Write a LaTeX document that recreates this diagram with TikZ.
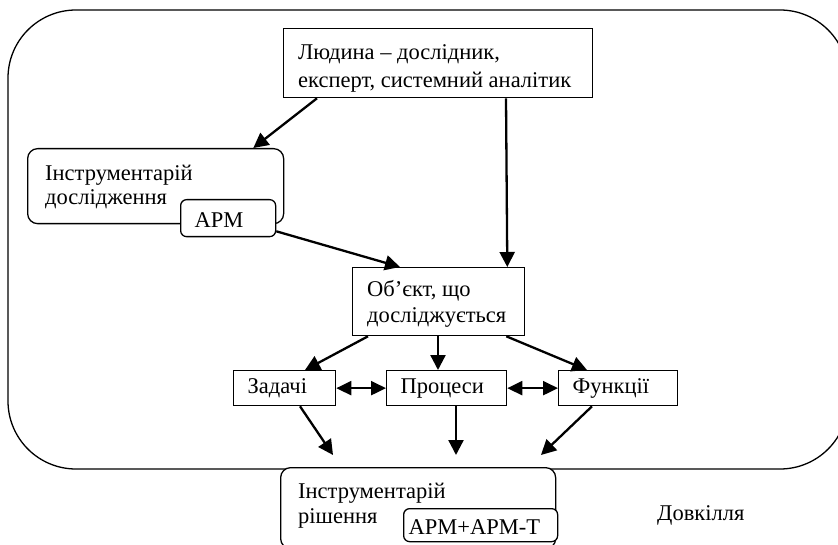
\documentclass[tikz,border=0pt]{standalone}
\usepackage{fontspec}
\setmainfont{Liberation Serif}
\usetikzlibrary{arrows.meta}

\begin{document}
\begin{tikzpicture}[x=1pt,y=-1pt,
    every node/.style={font=\fontsize{22.5}{26}\selectfont},
    box/.style={draw, line width=1.3pt, inner sep=0pt, fill=white, anchor=north west},
    rbox/.style={box, rounded corners=10pt},
    sbox/.style={box, inner xsep=14pt, align=left},
    lbl/.style={anchor=base west, align=left, inner sep=0pt},
    arr/.style={->, line width=2.3pt, >={Triangle[length=15pt,width=15pt]}},
    darr/.style={<->, line width=2.3pt, >={Triangle[length=15pt,width=14pt]}}]

    \useasboundingbox (0,0) rectangle (838,545);

    % environment
    \draw[line width=1.3pt, rounded corners=68pt] (8,10) rectangle (848,469);

    % top: the researcher
    \node[box, minimum width=309pt, minimum height=69pt] (human) at (283,28) {};
    \node[lbl, font=\fontsize{22.5}{28}\selectfont] (humantxt) at (298,88)
        {Людина – дослідник,\\експерт, системний аналітик};

    % research tools
    \node[rbox, minimum width=256pt, minimum height=75pt] (tools) at (27,148) {};
    \node[lbl, font=\fontsize{22.5}{24}\selectfont] (toolstxt) at (45,205)
        {Інструментарій\\дослідження};
    \node[rbox, rounded corners=6pt, minimum width=95pt, minimum height=37pt,
          text height=24pt, text depth=5pt, text width=67pt, inner xsep=14pt, align=left]
        (apm) at (180,199) {АРМ};

    % object
    \node[box, minimum width=172pt, minimum height=68pt] (obj) at (352,267) {};
    \node[lbl] (objtxt) at (367,323) {Об’єкт, що\\досліджується};

    % tasks, processes, functions
    \node[sbox, text width=74pt, minimum height=35pt] (zad) at (233,370) {Задачі};
    \node[sbox, text width=92pt, minimum height=35pt] (proc) at (386,370) {Процеси};
    \node[sbox, text width=91pt, minimum height=35pt] (fun) at (558,370) {Функції};

    % solution tools
    \node[rbox, minimum width=275pt, minimum height=81pt] (sol) at (280,467) {};
    \node[lbl, font=\fontsize{22.5}{25}\selectfont] (soltxt) at (298,523)
        {Інструментарій\\рішення};
    \node[rbox, rounded corners=6pt, minimum width=154pt, minimum height=33pt,
          text height=23pt, text depth=5pt, text width=144pt, inner xsep=5pt, align=left]
        (apmt) at (403,508) {АРМ+АРМ-Т};

    \node[lbl] (env) at (657,520) {Довкілля};

    % free ends above the solution box
    \coordinate (inz) at (333,455);
    \coordinate (inp) at (456,455);
    \coordinate (inf) at (541,455);

    % connectors
    \draw[arr] ([xshift=34pt]human.south west) -- ([xshift=-31pt]tools.north east);
    \draw[arr] ([xshift=223pt]human.south west) -- ([xshift=-18pt]obj.north east);
    \draw[arr] ([yshift=6pt]apm.south east) -- ([xshift=48pt]obj.north west);

    \draw[arr] ([xshift=16pt]obj.south west) -- ([xshift=72pt]zad.north west);
    \draw[arr] ([xshift=86pt]obj.south west) -- ([xshift=52pt]proc.north west);
    \draw[arr] ([xshift=-19pt]obj.south east) -- ([xshift=29pt]fun.north west);

    \draw[darr] (zad.east) -- (proc.west);
    \draw[darr] (proc.east) -- (fun.west);

    \draw[arr] ([xshift=67pt]zad.south west) -- (inz);
    \draw[arr] ([xshift=70pt]proc.south west) -- (inp);
    \draw[arr] ([xshift=34pt]fun.south west) -- (inf);

\end{tikzpicture}
\end{document}
